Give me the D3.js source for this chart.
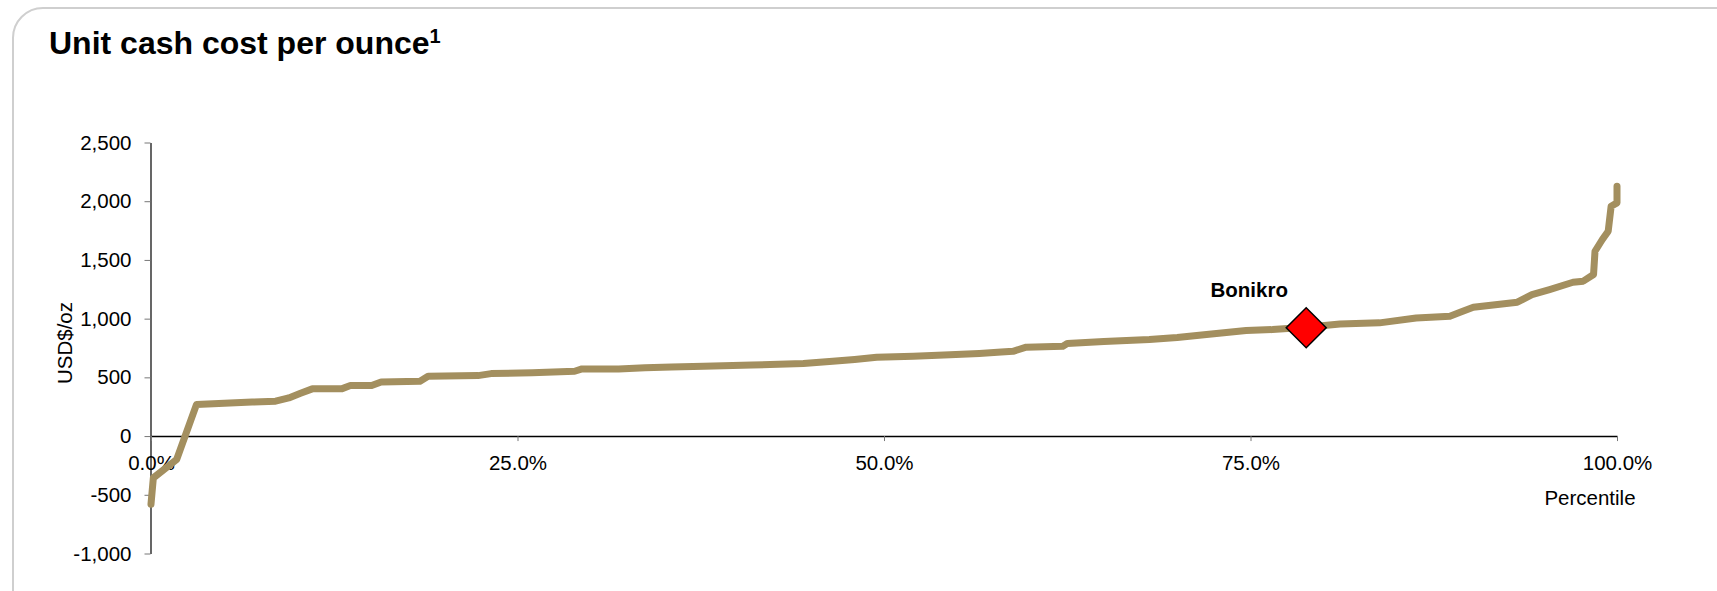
<!DOCTYPE html>
<html>
<head>
<meta charset="utf-8">
<script src="https://cdn.jsdelivr.net/npm/d3@7"></script>
<style>
  html, body { margin: 0; padding: 0; background: #ffffff; }
  svg { display: block; font-family: "Liberation Sans", Arial, sans-serif; }
</style>
</head>
<body>
<svg id="chart" width="1717" height="591"></svg>
<script>
// ---- data ----
const percentiles = [0.0, 0.16, 1.75, 3.1, 5.0, 6.9, 8.5, 9.4, 10.2, 11.0, 13.0, 13.6, 15.05, 15.7, 18.35, 18.9,
  22.3, 23.2, 26.0, 28.9, 29.4, 31.9, 33.7, 35.5, 37.7, 41.0, 44.5, 46.5, 48.0, 49.5, 52.0, 54.5, 56.5,
  58.0, 58.8, 59.7, 62.2, 62.5, 65.0, 68.1, 70.0, 72.0, 74.7, 76.5, 78.8, 81.1, 83.8, 86.3, 88.6, 89.3,
  90.2, 93.2, 94.2, 95.4, 97.0, 97.7, 98.4, 98.5, 99.0, 99.4, 99.6, 100.0, 100.0];
const costs = [-580, -356, -200, 268, 280, 290, 297, 325, 365, 402, 402, 430, 430, 461, 467, 509,
  515, 532, 540, 552, 572, 572, 581, 588, 595, 605, 618, 637, 652, 671, 680, 692, 703,
  715, 722, 757, 765, 788, 805, 822, 840, 865, 899, 907, 927, 955, 964, 1006, 1021, 1055,
  1097, 1140, 1205, 1248, 1310, 1319, 1376, 1574, 1674, 1745, 1957, 1986, 2128];
const highlightName = "Bonikro";
const highlightPercentile = 78.8;
const highlightCost = 922;
const yTicks = [-1000, -500, 0, 500, 1000, 1500, 2000, 2500];
const xTicks = [0, 25, 50, 75, 100];
const titleText = "Unit cash cost per ounce";
const titleNote = "1";
const yLabel = "USD$/oz";
const xLabel = "Percentile";

// ---- layout ----
const svg = d3.select("#chart");
const x = d3.scaleLinear().domain([0, 100]).range([151, 1617]);
const y = d3.scaleLinear().domain([-1000, 2500]).range([553.5, 142.5]);

// panel border (rounded, extends past right/bottom)
svg.append("path")
  .attr("d", "M13,620 L13,38 A30,30 0 0 1 43,8 L1740,8")
  .attr("fill", "none")
  .attr("stroke", "#cfcfcf")
  .attr("stroke-width", 2);

// title
const title = svg.append("text")
  .attr("x", 49).attr("y", 54)
  .attr("font-size", 32).attr("font-weight", "bold").attr("fill", "#000");
title.append("tspan").text(titleText);
title.append("tspan").text(titleNote).attr("font-size", 20).attr("dy", -11);

// y axis
const fmtComma = d3.format(",");
const yAxis = d3.axisLeft(y).tickValues(yTicks)
  .tickFormat(d => fmtComma(d).replace("\u2212", "-"))
  .tickSize(6).tickSizeOuter(0).tickPadding(13);
const gy = svg.append("g").attr("transform", "translate(150.5,0)").call(yAxis);
gy.select(".domain").attr("stroke", "#000").attr("stroke-width", 1.2);
gy.selectAll(".tick line").attr("stroke", "#777");
gy.selectAll(".tick text").attr("font-size", 20.5).attr("fill", "#000")
  .attr("font-family", "'Liberation Sans', Arial, sans-serif");

// x axis at zero
const xAxis = d3.axisBottom(x).tickValues(xTicks).tickFormat(d => d3.format(".1f")(d) + "%").tickSize(5).tickSizeOuter(0);
const gx = svg.append("g").attr("transform", `translate(0,${y(0)})`).call(xAxis);
gx.select(".domain").attr("stroke", "#000").attr("stroke-width", 1.5);
gx.selectAll(".tick line").attr("stroke", "#777");
gx.selectAll(".tick text").attr("font-size", 20.5).attr("fill", "#000")
  .attr("font-family", "'Liberation Sans', Arial, sans-serif")
  .attr("y", 33.5).attr("dy", 0);

// axis titles
svg.append("text").attr("x", 1590).attr("y", 505).attr("text-anchor", "middle")
  .attr("font-size", 20.5).attr("fill", "#000").text(xLabel);
svg.append("text").attr("transform", "translate(72,343) rotate(-90)").attr("text-anchor", "middle")
  .attr("font-size", 20.5).attr("fill", "#000").text(yLabel);

// cost curve
const pts = percentiles.map((p, i) => [p, costs[i]]);
const line = d3.line().x(d => x(d[0])).y(d => y(d[1]));
svg.append("path").datum(pts)
  .attr("d", line)
  .attr("fill", "none")
  .attr("stroke", "#A38F5F")
  .attr("stroke-width", 7)
  .attr("stroke-linejoin", "round")
  .attr("stroke-linecap", "round");

// highlighted mine
svg.append("path")
  .attr("d", d3.symbol(d3.symbolSquare, 800)())
  .attr("transform", `translate(${x(highlightPercentile)},${y(highlightCost)}) rotate(45)`)
  .attr("fill", "#FF0000")
  .attr("stroke", "#000")
  .attr("stroke-width", 1.5);
svg.append("text")
  .attr("x", x(highlightPercentile) - 57).attr("y", 297)
  .attr("text-anchor", "middle")
  .attr("font-size", 20.5).attr("font-weight", "bold").attr("fill", "#000")
  .text(highlightName);
</script>
</body>
</html>
